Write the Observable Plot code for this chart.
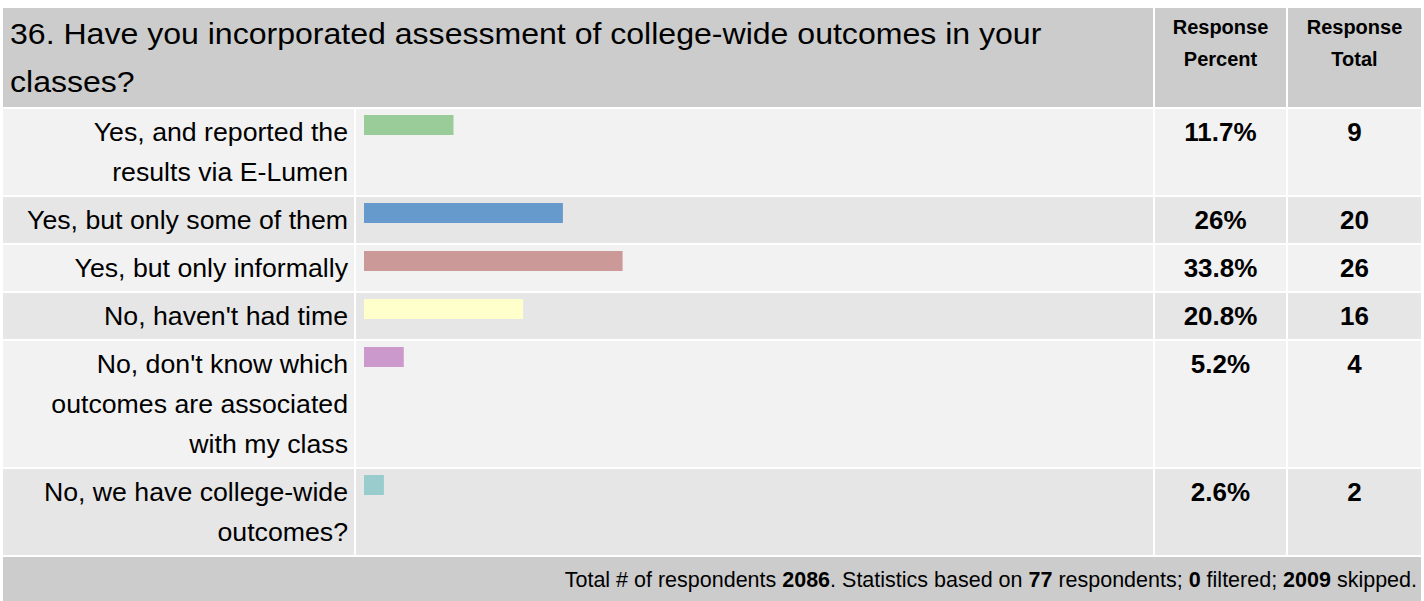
<!DOCTYPE html>
<html>
<head>
<meta charset="utf-8">
<script src="https://cdn.jsdelivr.net/npm/d3@7"></script>
<script src="https://cdn.jsdelivr.net/npm/@observablehq/plot@0.6"></script>
<style>
  html, body { margin: 0; padding: 0; background: #fff; }
  body { padding: 6px 1px 0 1px; font-family: Arial, "Liberation Sans", sans-serif; color: #000; }
  table { border-collapse: separate; border-spacing: 2px; width: 1422px; table-layout: fixed; }
  td { padding: 0; vertical-align: top; }
  .title { background: #cccccc; padding: 2px 7px 1px 7px; overflow: hidden; }
  .title div { font-size: 29px; line-height: 48px; width: 1028px; transform: scaleX(1.105); transform-origin: 0 0; }
  .hdr { background: #cccccc; font-size: 20px; font-weight: bold; line-height: 32px; padding: 3px 0; text-align: center; }
  .lab { font-size: 26.7px; line-height: 40px; padding: 3px 6px 3px 20px; text-align: right; }
  .val { font-size: 26px; line-height: 40px; padding: 3px 0; text-align: center; font-weight: bold; }
  .bar { padding: 0; }
  .bar svg { display: block; }
  .odd td { background: #f2f2f2; }
  .even td { background: #e6e6e6; }
  .foot { background: #cccccc; font-size: 21.5px; line-height: 40px; padding: 3px 4px 3px 4px; text-align: right; }
  .foot b { font-weight: bold; }
</style>
</head>
<body>
<div id="root"></div>
<script>
const question = "36. Have you incorporated assessment of college-wide outcomes in your classes?";
const headers = ["Response Percent", "Response Total"];
const answers = [
  "Yes, and reported the results via E-Lumen",
  "Yes, but only some of them",
  "Yes, but only informally",
  "No, haven't had time",
  "No, don't know which outcomes are associated with my class",
  "No, we have college-wide outcomes?"
];
const percents = [11.7, 26, 33.8, 20.8, 5.2, 2.6];
const totals = [9, 20, 26, 16, 4, 2];
const barColors = ["#99cc99", "#6699cc", "#cc9999", "#ffffcc", "#cc99cc", "#99cccc"];
const totalRespondents = 2086;
const answered = 77;
const filtered = 0;
const skipped = 2009;

const table = document.createElement("table");
const colgroup = document.createElement("colgroup");
[351, 797, 131, 133].forEach(w => { const c = document.createElement("col"); c.style.width = w + "px"; colgroup.appendChild(c); });
table.appendChild(colgroup);

// header row
const hr = document.createElement("tr");
const th = document.createElement("td");
th.colSpan = 2; th.className = "title";
const thd = document.createElement("div"); thd.textContent = question; th.appendChild(thd);
hr.appendChild(th);
headers.forEach(h => {
  const td = document.createElement("td");
  td.className = "hdr";
  td.innerHTML = h.split(" ").join("<br>");
  hr.appendChild(td);
});
table.appendChild(hr);

answers.forEach((a, i) => {
  const tr = document.createElement("tr");
  tr.className = i % 2 === 0 ? "odd" : "even";
  const l = document.createElement("td"); l.className = "lab"; l.textContent = a; tr.appendChild(l);
  const b = document.createElement("td"); b.className = "bar";
  const chart = Plot.plot({
    width: 797,
    height: 26,
    marginLeft: 8,
    marginRight: 24,
    marginTop: 6,
    marginBottom: 0,
    x: { domain: [0, 100], axis: null },
    style: { background: "transparent", overflow: "visible" },
    marks: [
      Plot.barX([{ p: percents[i] }], { x: "p", fill: barColors[i], inset: 0 })
    ]
  });
  b.appendChild(chart);
  tr.appendChild(b);
  const p = document.createElement("td"); p.className = "val"; p.textContent = percents[i] + "%"; tr.appendChild(p);
  const t = document.createElement("td"); t.className = "val"; t.textContent = totals[i]; tr.appendChild(t);
  table.appendChild(tr);
});

const fr = document.createElement("tr");
const fd = document.createElement("td");
fd.colSpan = 4; fd.className = "foot";
fd.innerHTML = `Total # of respondents <b>${totalRespondents}</b>. Statistics based on <b>${answered}</b> respondents; <b>${filtered}</b> filtered; <b>${skipped}</b> skipped.`;
fr.appendChild(fd);
table.appendChild(fr);

document.getElementById("root").appendChild(table);
</script>
</body>
</html>
